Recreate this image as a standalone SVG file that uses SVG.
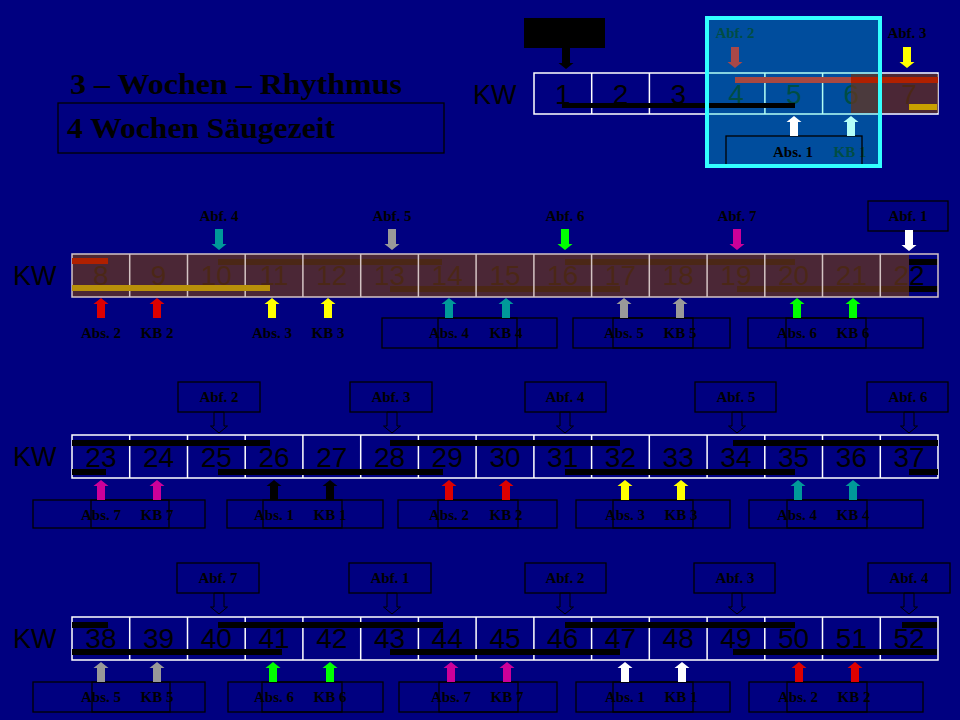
<svg xmlns="http://www.w3.org/2000/svg" xmlns:xlink="http://www.w3.org/1999/xlink" width="960" height="720" viewBox="0 0 960 720">
<defs>
<style>
.num{font-family:"Liberation Sans",Arial,sans-serif;font-size:28px;text-anchor:middle;fill:#000}
.kw{font-family:"Liberation Sans",Arial,sans-serif;font-size:27px;fill:#000}
.lb{font-family:"Liberation Serif","Times New Roman",serif;font-weight:bold;font-size:15px;text-anchor:middle;fill:#000}
.tt{font-family:"Liberation Serif","Times New Roman",serif;font-weight:bold;font-size:29px;fill:#000}
.grid{fill:none;stroke:#fff;stroke-width:1.5}
.box{fill:none;stroke:#000;stroke-width:1.3}
.bar{fill:#000}
</style>
<path id="dn" d="M-4,0H4V15H7.5L0,21L-7.5,15H-4Z"/>
<path id="up" d="M0,0L7.5,6H4V20H-4V6H-7.5Z"/>
<path id="hdn" d="M-5,0H5V14H8.5L0,21L-8.5,14H-5Z" fill="none" stroke="#000" stroke-width="1"/>
</defs>
<rect width="960" height="720" fill="#000080"/>

<g id="title">
<text class="tt" x="70" y="94" textLength="332" lengthAdjust="spacingAndGlyphs">3 – Wochen – Rhythmus</text>
<rect class="box" x="58" y="103" width="386" height="50"/>
<text class="tt" x="67" y="138" textLength="268" lengthAdjust="spacingAndGlyphs">4 Wochen Säugezeit</text>
</g>

<g id="row1">
<rect x="524" y="18" width="81" height="30" fill="#000"/>
<text class="kw" x="473" y="104">KW</text>
<path class="grid" d="M534,73H938V114H534Z M591.7,73V114 M649.4,73V114 M707.1,73V114 M764.9,73V114 M822.6,73V114 M880.3,73V114"/>
<text class="num" x="562.9" y="104">1</text>
<text class="num" x="620.6" y="104">2</text>
<text class="num" x="678.3" y="104">3</text>
<text class="num" x="736" y="104">4</text>
<text class="num" x="793.7" y="104">5</text>
<text class="num" x="851.4" y="104">6</text>
<text class="num" x="909.1" y="104">7</text>
<text class="lb" x="735" y="38">Abf. 2</text>
<text class="lb" x="907" y="38">Abf. 3</text>
<text class="lb" x="850" y="157">KB 1</text>
<rect x="707" y="18" width="173" height="148" fill="#00FFE0" fill-opacity="0.3"/>
<rect x="851" y="74" width="87" height="39" fill="#64341E" fill-opacity="0.75"/>
<rect x="735" y="77" width="116" height="6" fill="#A84840"/>
<rect x="851" y="77" width="87" height="6" fill="#B02000"/>
<rect x="909" y="104" width="28" height="6" fill="#C8A000"/>
<rect class="bar" x="562" y="103" width="233" height="5"/>
<text class="lb" x="793" y="157">Abs. 1</text>
<rect class="box" x="726" y="136" width="136" height="30"/>
<rect x="707" y="18" width="173" height="148" fill="none" stroke="#33FFFF" stroke-width="4"/>
</g>

<g id="row2">
<text class="kw" x="13" y="285">KW</text>
<text class="num" x="100.9" y="285">8</text>
<text class="num" x="158.6" y="285">9</text>
<text class="num" x="216.3" y="285">10</text>
<text class="num" x="274.1" y="285">11</text>
<text class="num" x="331.8" y="285">12</text>
<text class="num" x="389.5" y="285">13</text>
<text class="num" x="447.2" y="285">14</text>
<text class="num" x="505" y="285">15</text>
<text class="num" x="562.7" y="285">16</text>
<text class="num" x="620.4" y="285">17</text>
<text class="num" x="678.2" y="285">18</text>
<text class="num" x="735.9" y="285">19</text>
<text class="num" x="793.6" y="285">20</text>
<text class="num" x="851.4" y="285">21</text>
<text class="num" x="909.1" y="285">22</text>
<rect class="bar" x="218" y="259" width="224" height="6"/>
<rect class="bar" x="390" y="286" width="230" height="6"/>
<rect class="bar" x="565" y="259" width="230" height="6"/>
<rect class="bar" x="737" y="286" width="201" height="6"/>
<rect class="bar" x="909" y="259" width="29" height="6"/>
<rect x="72" y="254" width="837" height="43" fill="#64341E" fill-opacity="0.75"/>
<path class="grid" stroke="#D4C4C4" d="M72,254H938V297H72Z M129.7,254V297 M187.5,254V297 M245.2,254V297 M302.9,254V297 M360.7,254V297 M418.4,254V297 M476.1,254V297 M533.9,254V297 M591.6,254V297 M649.3,254V297 M707.1,254V297 M764.8,254V297 M822.5,254V297 M880.3,254V297" style="stroke:#D4C4C4"/>
<rect x="72" y="258" width="36" height="6" fill="#B02000"/>
<rect x="72" y="285" width="198" height="6" fill="#B8900A"/>
<text class="lb" x="219" y="221">Abf. 4</text>
<text class="lb" x="392" y="221">Abf. 5</text>
<text class="lb" x="565" y="221">Abf. 6</text>
<text class="lb" x="737" y="221">Abf. 7</text>
<rect class="box" x="868" y="201" width="80" height="30"/>
<text class="lb" x="908" y="221">Abf. 1</text>
<text class="lb" x="101" y="338">Abs. 2</text>
<text class="lb" x="157" y="338">KB 2</text>
<text class="lb" x="272" y="338">Abs. 3</text>
<text class="lb" x="328" y="338">KB 3</text>
<rect class="box" x="382" y="318" width="175" height="30"/>
<rect class="box" x="438" y="318" width="79" height="30"/>
<text class="lb" x="449" y="338">Abs. 4</text>
<text class="lb" x="506" y="338">KB 4</text>
<rect class="box" x="573" y="318" width="157" height="30"/>
<rect class="box" x="613" y="318" width="80" height="30"/>
<text class="lb" x="624" y="338">Abs. 5</text>
<text class="lb" x="680" y="338">KB 5</text>
<rect class="box" x="748" y="318" width="175" height="30"/>
<rect class="box" x="786" y="318" width="80" height="30"/>
<text class="lb" x="797" y="338">Abs. 6</text>
<text class="lb" x="853" y="338">KB 6</text>
</g>

<g id="row3">
<text class="kw" x="13" y="466">KW</text>
<path class="grid" d="M72,435H938V478H72Z M129.7,435V478 M187.5,435V478 M245.2,435V478 M302.9,435V478 M360.7,435V478 M418.4,435V478 M476.1,435V478 M533.9,435V478 M591.6,435V478 M649.3,435V478 M707.1,435V478 M764.8,435V478 M822.5,435V478 M880.3,435V478"/>
<text class="num" x="100.9" y="467">23</text>
<text class="num" x="158.6" y="467">24</text>
<text class="num" x="216.3" y="467">25</text>
<text class="num" x="274.1" y="467">26</text>
<text class="num" x="331.8" y="467">27</text>
<text class="num" x="389.5" y="467">28</text>
<text class="num" x="447.2" y="467">29</text>
<text class="num" x="505" y="467">30</text>
<text class="num" x="562.7" y="467">31</text>
<text class="num" x="620.4" y="467">32</text>
<text class="num" x="678.2" y="467">33</text>
<text class="num" x="735.9" y="467">34</text>
<text class="num" x="793.6" y="467">35</text>
<text class="num" x="851.4" y="467">36</text>
<text class="num" x="909.1" y="467">37</text>
<rect class="bar" x="72" y="440" width="198" height="6"/>
<rect class="bar" x="72" y="469" width="34" height="6"/>
<rect class="bar" x="218" y="469" width="225" height="6"/>
<rect class="bar" x="390" y="440" width="230" height="6"/>
<rect class="bar" x="565" y="469" width="230" height="6"/>
<rect class="bar" x="733" y="440" width="205" height="6"/>
<rect class="bar" x="909" y="469" width="29" height="6"/>
<rect class="box" x="178" y="382" width="82" height="30"/>
<text class="lb" x="219" y="402">Abf. 2</text>
<rect class="box" x="350" y="382" width="82" height="30"/>
<text class="lb" x="391" y="402">Abf. 3</text>
<rect class="box" x="525" y="382" width="81" height="30"/>
<text class="lb" x="565" y="402">Abf. 4</text>
<rect class="box" x="695" y="382" width="81" height="30"/>
<text class="lb" x="736" y="402">Abf. 5</text>
<rect class="box" x="867" y="382" width="81" height="30"/>
<text class="lb" x="908" y="402">Abf. 6</text>
<rect class="box" x="33" y="500" width="172" height="28"/>
<rect class="box" x="91" y="500" width="78" height="28"/>
<text class="lb" x="101" y="520">Abs. 7</text>
<text class="lb" x="157" y="520">KB 7</text>
<rect class="box" x="227" y="500" width="156" height="28"/>
<rect class="box" x="263" y="500" width="79" height="28"/>
<text class="lb" x="274" y="520">Abs. 1</text>
<text class="lb" x="330" y="520">KB 1</text>
<rect class="box" x="398" y="500" width="159" height="28"/>
<rect class="box" x="438" y="500" width="80" height="28"/>
<text class="lb" x="449" y="520">Abs. 2</text>
<text class="lb" x="506" y="520">KB 2</text>
<rect class="box" x="576" y="500" width="154" height="28"/>
<rect class="box" x="613" y="500" width="80" height="28"/>
<text class="lb" x="625" y="520">Abs. 3</text>
<text class="lb" x="681" y="520">KB 3</text>
<rect class="box" x="749" y="500" width="174" height="28"/>
<rect class="box" x="787" y="500" width="80" height="28"/>
<text class="lb" x="797" y="520">Abs. 4</text>
<text class="lb" x="853" y="520">KB 4</text>
</g>

<g id="row4">
<text class="kw" x="13" y="648">KW</text>
<path class="grid" d="M72,617H938V660H72Z M129.7,617V660 M187.5,617V660 M245.2,617V660 M302.9,617V660 M360.7,617V660 M418.4,617V660 M476.1,617V660 M533.9,617V660 M591.6,617V660 M649.3,617V660 M707.1,617V660 M764.8,617V660 M822.5,617V660 M880.3,617V660"/>
<text class="num" x="100.9" y="648">38</text>
<text class="num" x="158.6" y="648">39</text>
<text class="num" x="216.3" y="648">40</text>
<text class="num" x="274.1" y="648">41</text>
<text class="num" x="331.8" y="648">42</text>
<text class="num" x="389.5" y="648">43</text>
<text class="num" x="447.2" y="648">44</text>
<text class="num" x="505" y="648">45</text>
<text class="num" x="562.7" y="648">46</text>
<text class="num" x="620.4" y="648">47</text>
<text class="num" x="678.2" y="648">48</text>
<text class="num" x="735.9" y="648">49</text>
<text class="num" x="793.6" y="648">50</text>
<text class="num" x="851.4" y="648">51</text>
<text class="num" x="909.1" y="648">52</text>
<rect class="bar" x="72" y="622" width="36" height="6"/>
<rect class="bar" x="72" y="649" width="210" height="6"/>
<rect class="bar" x="218" y="622" width="225" height="6"/>
<rect class="bar" x="390" y="649" width="230" height="6"/>
<rect class="bar" x="565" y="622" width="230" height="6"/>
<rect class="bar" x="733" y="649" width="204" height="6"/>
<rect class="bar" x="902" y="622" width="35" height="6"/>
<rect class="box" x="177" y="563" width="82" height="30"/>
<text class="lb" x="218" y="583">Abf. 7</text>
<rect class="box" x="349" y="563" width="82" height="30"/>
<text class="lb" x="390" y="583">Abf. 1</text>
<rect class="box" x="525" y="563" width="81" height="30"/>
<text class="lb" x="565" y="583">Abf. 2</text>
<rect class="box" x="694" y="563" width="81" height="30"/>
<text class="lb" x="735" y="583">Abf. 3</text>
<rect class="box" x="868" y="563" width="82" height="30"/>
<text class="lb" x="909" y="583">Abf. 4</text>
<rect class="box" x="33" y="682" width="172" height="30"/>
<rect class="box" x="92" y="682" width="78" height="30"/>
<text class="lb" x="101" y="702">Abs. 5</text>
<text class="lb" x="157" y="702">KB 5</text>
<rect class="box" x="228" y="682" width="155" height="30"/>
<rect class="box" x="262" y="682" width="80" height="30"/>
<text class="lb" x="274" y="702">Abs. 6</text>
<text class="lb" x="330" y="702">KB 6</text>
<rect class="box" x="399" y="682" width="158" height="30"/>
<rect class="box" x="439" y="682" width="79" height="30"/>
<text class="lb" x="451" y="702">Abs. 7</text>
<text class="lb" x="507" y="702">KB 7</text>
<rect class="box" x="576" y="682" width="154" height="30"/>
<rect class="box" x="613" y="682" width="80" height="30"/>
<text class="lb" x="625" y="702">Abs. 1</text>
<text class="lb" x="681" y="702">KB 1</text>
<rect class="box" x="749" y="682" width="174" height="30"/>
<rect class="box" x="787" y="682" width="80" height="30"/>
<text class="lb" x="798" y="702">Abs. 2</text>
<text class="lb" x="854" y="702">KB 2</text>
</g>

<g id="connectors">
<use xlink:href="#dn" href="#dn" x="566" y="48" fill="#000"/>
<use xlink:href="#dn" href="#dn" x="735" y="47" fill="#A84848"/>
<use xlink:href="#dn" href="#dn" x="907" y="47" fill="#FFFF00"/>
<use xlink:href="#up" href="#up" x="794" y="116" fill="#FFFFFF"/>
<use xlink:href="#up" href="#up" x="851" y="116" fill="#B4FFF8"/>

<use xlink:href="#dn" href="#dn" x="219" y="229" fill="#009999"/>
<use xlink:href="#dn" href="#dn" x="392" y="229" fill="#999999"/>
<use xlink:href="#dn" href="#dn" x="565" y="229" fill="#00FF00"/>
<use xlink:href="#dn" href="#dn" x="737" y="229" fill="#CC0099"/>
<use xlink:href="#dn" href="#dn" x="909" y="230" fill="#FFFFFF"/>
<use xlink:href="#up" href="#up" x="101" y="298" fill="#DD0000"/>
<use xlink:href="#up" href="#up" x="157" y="298" fill="#DD0000"/>
<use xlink:href="#up" href="#up" x="272" y="298" fill="#FFFF00"/>
<use xlink:href="#up" href="#up" x="328" y="298" fill="#FFFF00"/>
<use xlink:href="#up" href="#up" x="449" y="298" fill="#009999"/>
<use xlink:href="#up" href="#up" x="506" y="298" fill="#009999"/>
<use xlink:href="#up" href="#up" x="624" y="298" fill="#999999"/>
<use xlink:href="#up" href="#up" x="680" y="298" fill="#999999"/>
<use xlink:href="#up" href="#up" x="797" y="298" fill="#00FF00"/>
<use xlink:href="#up" href="#up" x="853" y="298" fill="#00FF00"/>

<use xlink:href="#hdn" href="#hdn" x="219" y="412"/>
<use xlink:href="#hdn" href="#hdn" x="392" y="412"/>
<use xlink:href="#hdn" href="#hdn" x="565" y="412"/>
<use xlink:href="#hdn" href="#hdn" x="737" y="412"/>
<use xlink:href="#hdn" href="#hdn" x="909" y="412"/>
<use xlink:href="#up" href="#up" x="101" y="480" fill="#CC0099"/>
<use xlink:href="#up" href="#up" x="157" y="480" fill="#CC0099"/>
<use xlink:href="#up" href="#up" x="274" y="480" fill="#000000"/>
<use xlink:href="#up" href="#up" x="330" y="480" fill="#000000"/>
<use xlink:href="#up" href="#up" x="449" y="480" fill="#DD0000"/>
<use xlink:href="#up" href="#up" x="506" y="480" fill="#DD0000"/>
<use xlink:href="#up" href="#up" x="625" y="480" fill="#FFFF00"/>
<use xlink:href="#up" href="#up" x="681" y="480" fill="#FFFF00"/>
<use xlink:href="#up" href="#up" x="798" y="480" fill="#009999"/>
<use xlink:href="#up" href="#up" x="853" y="480" fill="#009999"/>

<use xlink:href="#hdn" href="#hdn" x="219" y="593"/>
<use xlink:href="#hdn" href="#hdn" x="392" y="593"/>
<use xlink:href="#hdn" href="#hdn" x="565" y="593"/>
<use xlink:href="#hdn" href="#hdn" x="737" y="593"/>
<use xlink:href="#hdn" href="#hdn" x="909" y="593"/>
<use xlink:href="#up" href="#up" x="101" y="662" fill="#999999"/>
<use xlink:href="#up" href="#up" x="157" y="662" fill="#999999"/>
<use xlink:href="#up" href="#up" x="273" y="662" fill="#00FF00"/>
<use xlink:href="#up" href="#up" x="330" y="662" fill="#00FF00"/>
<use xlink:href="#up" href="#up" x="451" y="662" fill="#CC0099"/>
<use xlink:href="#up" href="#up" x="507" y="662" fill="#CC0099"/>
<use xlink:href="#up" href="#up" x="625" y="662" fill="#FFFFFF"/>
<use xlink:href="#up" href="#up" x="682" y="662" fill="#FFFFFF"/>
<use xlink:href="#up" href="#up" x="799" y="662" fill="#DD0000"/>
<use xlink:href="#up" href="#up" x="855" y="662" fill="#DD0000"/>
</g>
</svg>
